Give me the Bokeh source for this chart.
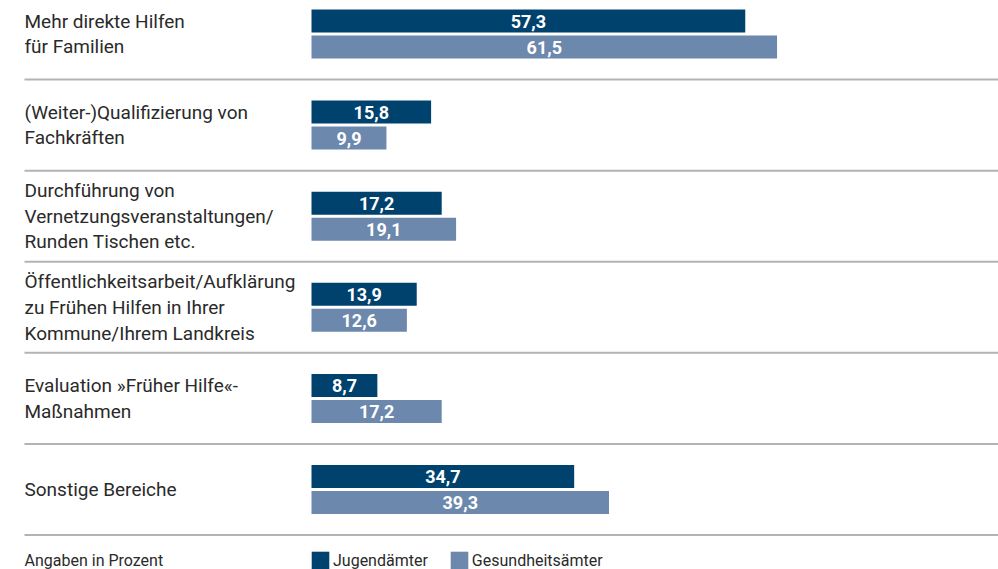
from bokeh.plotting import figure
from bokeh.models import Range1d, ColumnDataSource, Legend, LegendItem
from bokeh.core.properties import value
from bokeh.embed import file_html
from bokeh.resources import INLINE

# ---- data ----
categories = [
    "Mehr direkte Hilfen\nfür Familien",
    "(Weiter-)Qualifizierung von\nFachkräften",
    "Durchführung von\nVernetzungsveranstaltungen/\nRunden Tischen etc.",
    "Öffentlichkeitsarbeit/Aufklärung\nzu Frühen Hilfen in Ihrer\nKommune/Ihrem Landkreis",
    "Evaluation »Früher Hilfe«-\nMaßnahmen",
    "Sonstige Bereiche",
]
jugendaemter = [57.3, 15.8, 17.2, 13.9, 8.7, 34.7]
gesundheitsaemter = [61.5, 9.9, 19.1, 12.6, 17.2, 39.3]
series_names = ["Jugendämter", "Gesundheitsämter"]
note = "Angaben in Prozent"

# ---- layout constants ----
W, H = 998, 569
X0 = 311          # pixel where value 0 sits
S = 7.57          # pixels per percent
BAND = 91.1
TOP = 33.5
BAR_H = 23
OFF = 13
FONT = "Roboto"
DARK = "#00426e"
LIGHT = "#6c88ad"
TXT = "#2a2a2a"

n = len(categories)
centers = [TOP + BAND * i for i in range(n)]

def fmt(v):
    return f"{v:.1f}".replace(".", ",")

src = ColumnDataSource(dict(
    cat=categories,
    yc=centers,
    y1=[c - OFF for c in centers],
    y2=[c + OFF for c in centers],
    j=jugendaemter,
    g=gesundheitsaemter,
    jh=[v / 2 for v in jugendaemter],
    gh=[v / 2 for v in gesundheitsaemter],
    jl=[fmt(v) for v in jugendaemter],
    gl=[fmt(v) for v in gesundheitsaemter],
    sep=[c + BAND / 2 for c in centers],
    lx=[(24 - X0) / S] * n,
    rx=[(W - X0) / S] * n,
))

p = figure(width=W, height=H, output_backend="svg", toolbar_location=None,
           x_range=Range1d(-X0 / S, (W - X0) / S), y_range=Range1d(H, 0),
           x_axis_type=None, y_axis_type=None, min_border=0,
           outline_line_color=None)
p.grid.visible = False
p.background_fill_color = "white"
p.border_fill_color = "white"

# separators
p.segment(x0="lx", x1="rx", y0="sep", y1="sep", source=src,
          line_color="#b3b3b3", line_width=2)

r1 = p.hbar(y="y1", left=0, right="j", height=BAR_H, source=src,
            fill_color=DARK, line_color=None)
r2 = p.hbar(y="y2", left=0, right="g", height=BAR_H, source=src,
            fill_color=LIGHT, line_color=None)

p.text(x="jh", y="y1", text="jl", source=src, text_color="white",
       text_font=value(FONT), text_font_size="18px", text_font_style="bold",
       text_align="center", text_baseline="middle")
p.text(x="gh", y="y2", text="gl", source=src, text_color="white",
       text_font=value(FONT), text_font_size="18px", text_font_style="bold",
       text_align="center", text_baseline="middle")

# category labels
p.text(x="lx", y="yc", text="cat", source=src, text_color=TXT,
       text_font=value(FONT), text_font_size="19px", text_line_height=1.12,
       text_align="left", text_baseline="middle")

# note
p.text(x=[(24 - X0) / S], y=[560], text=[note], text_color=TXT,
       text_font=value(FONT), text_font_size="16px",
       text_align="left", text_baseline="middle")

legend = Legend(items=[LegendItem(label=series_names[0], renderers=[r1]),
                       LegendItem(label=series_names[1], renderers=[r2])],
                orientation="horizontal", location=(X0 - 2, -2),
                padding=0, margin=0, spacing=20, label_standoff=2,
                glyph_width=22, glyph_height=22, label_height=22,
                border_line_color=None, background_fill_alpha=0,
                label_text_font=FONT, label_text_font_size="16px",
                label_text_color=TXT)
p.add_layout(legend, "center")

open("out.html", "w").write(file_html(p, INLINE))
